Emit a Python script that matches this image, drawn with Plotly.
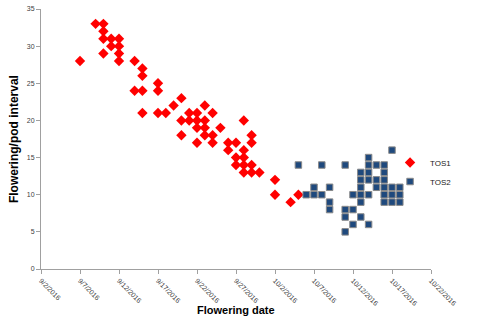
import plotly.graph_objects as go

# TOS1 (red diamonds)
tos1_dates = (["2016-09-07"] + ["2016-09-09"] + ["2016-09-10"]*4 + ["2016-09-11"]*2 +
              ["2016-09-12"]*4 + ["2016-09-14"]*2 + ["2016-09-15"]*4 + ["2016-09-17"]*3 +
              ["2016-09-18"] + ["2016-09-19"] + ["2016-09-20"]*3 + ["2016-09-21"]*2 +
              ["2016-09-22"]*4 + ["2016-09-23"]*4 + ["2016-09-24"]*3 + ["2016-09-25"] +
              ["2016-09-26"]*2 + ["2016-09-27"]*3 + ["2016-09-28"]*5 + ["2016-09-29"]*4 +
              ["2016-09-30"] + ["2016-10-02"]*2 + ["2016-10-04"] + ["2016-10-05"])
tos1_values = [28, 33, 33, 32, 31, 29, 31, 30, 31, 30, 29, 28, 28, 24, 27, 26, 24, 21,
               25, 24, 21, 21, 22, 23, 20, 18, 21, 20, 21, 20, 19, 17, 22, 20, 19, 18,
               21, 18, 17, 19, 17, 16, 17, 15, 14, 20, 16, 15, 14, 13, 18, 17, 14, 13,
               13, 12, 10, 9, 10]

# TOS2 (blue squares)
tos2_dates = (["2016-10-05"] + ["2016-10-06"] + ["2016-10-07"]*2 + ["2016-10-08"]*2 +
              ["2016-10-09"]*3 + ["2016-10-11"]*4 + ["2016-10-12"]*3 + ["2016-10-13"]*6 +
              ["2016-10-14"]*6 + ["2016-10-15"]*3 + ["2016-10-16"]*6 + ["2016-10-17"]*4 +
              ["2016-10-18"]*3)
tos2_values = [14, 10, 11, 10, 14, 10, 11, 9, 8, 14, 8, 7, 5, 10, 8, 6,
               13, 12, 11, 10, 9, 7, 15, 14, 13, 12, 10, 6, 14, 12, 11,
               14, 13, 12, 11, 10, 9, 16, 11, 10, 9, 11, 10, 9]

x_tick_vals = ["2016-09-02", "2016-09-07", "2016-09-12", "2016-09-17", "2016-09-22",
               "2016-09-27", "2016-10-02", "2016-10-07", "2016-10-12", "2016-10-17",
               "2016-10-22"]
x_tick_text = ["9/2/2016", "9/7/2016", "9/12/2016", "9/17/2016", "9/22/2016",
               "9/27/2016", "10/2/2016", "10/7/2016", "10/12/2016", "10/17/2016",
               "10/22/2016"]
y_tick_vals = [0, 5, 10, 15, 20, 25, 30, 35]

fig = go.Figure()
fig.add_trace(go.Scatter(
    x=tos1_dates, y=tos1_values, mode="markers", name="TOS1",
    marker=dict(symbol="diamond", size=8, color="#FF0000",
                line=dict(width=0))))
fig.add_trace(go.Scatter(
    x=tos2_dates, y=tos2_values, mode="markers", name="TOS2",
    marker=dict(symbol="square", size=6.5, color="#1F497D",
                line=dict(width=1, color="#8a8a8a"))))

FONT = "Liberation Sans, Arial, sans-serif"
axis_font = dict(family=FONT, size=7, color="#404040")
fig.update_layout(
    width=485, height=321,
    margin=dict(l=41, r=54, t=9, b=52, autoexpand=False),
    paper_bgcolor="white", plot_bgcolor="white",
    font=dict(family=FONT, color="black"),
    showlegend=True,
    legend=dict(x=0.895, y=0.373, xanchor="left", yanchor="middle",
                font=dict(size=8, color="#222"), itemwidth=30,
                tracegroupgap=0, bgcolor="rgba(0,0,0,0)"),
    xaxis=dict(
        type="date", range=["2016-09-02", "2016-10-22"], automargin=False,
        tickvals=x_tick_vals, ticktext=x_tick_text, tickangle=45,
        tickfont=axis_font, ticks="outside", ticklen=4, tickcolor="#a0a0a0",
        showline=True, linecolor="#a0a0a0", linewidth=1,
        showgrid=False, zeroline=False,
    ),
    yaxis=dict(
        range=[0, 35], tickvals=y_tick_vals, automargin=False,
        tickfont=axis_font, ticks="outside", ticklen=4, tickcolor="#a0a0a0",
        showline=True, linecolor="#a0a0a0", linewidth=1,
        showgrid=False, zeroline=False,
    ),
    annotations=[
        dict(text="<b>Flowering date</b>", xref="paper", yref="paper",
             x=0.5, y=-0.158, xanchor="center", yanchor="middle", showarrow=False,
             font=dict(family=FONT, size=11, color="black")),
        dict(text="<b>Flowering/pod interval</b>", xref="paper", yref="paper",
             x=-0.069, y=0.5, xanchor="center", yanchor="middle", showarrow=False,
             textangle=-90, font=dict(family=FONT, size=12, color="black")),
    ],
)
fig.write_html("out.html", config={"displayModeBar": False},
               post_script="document.body.style.margin='0';")
